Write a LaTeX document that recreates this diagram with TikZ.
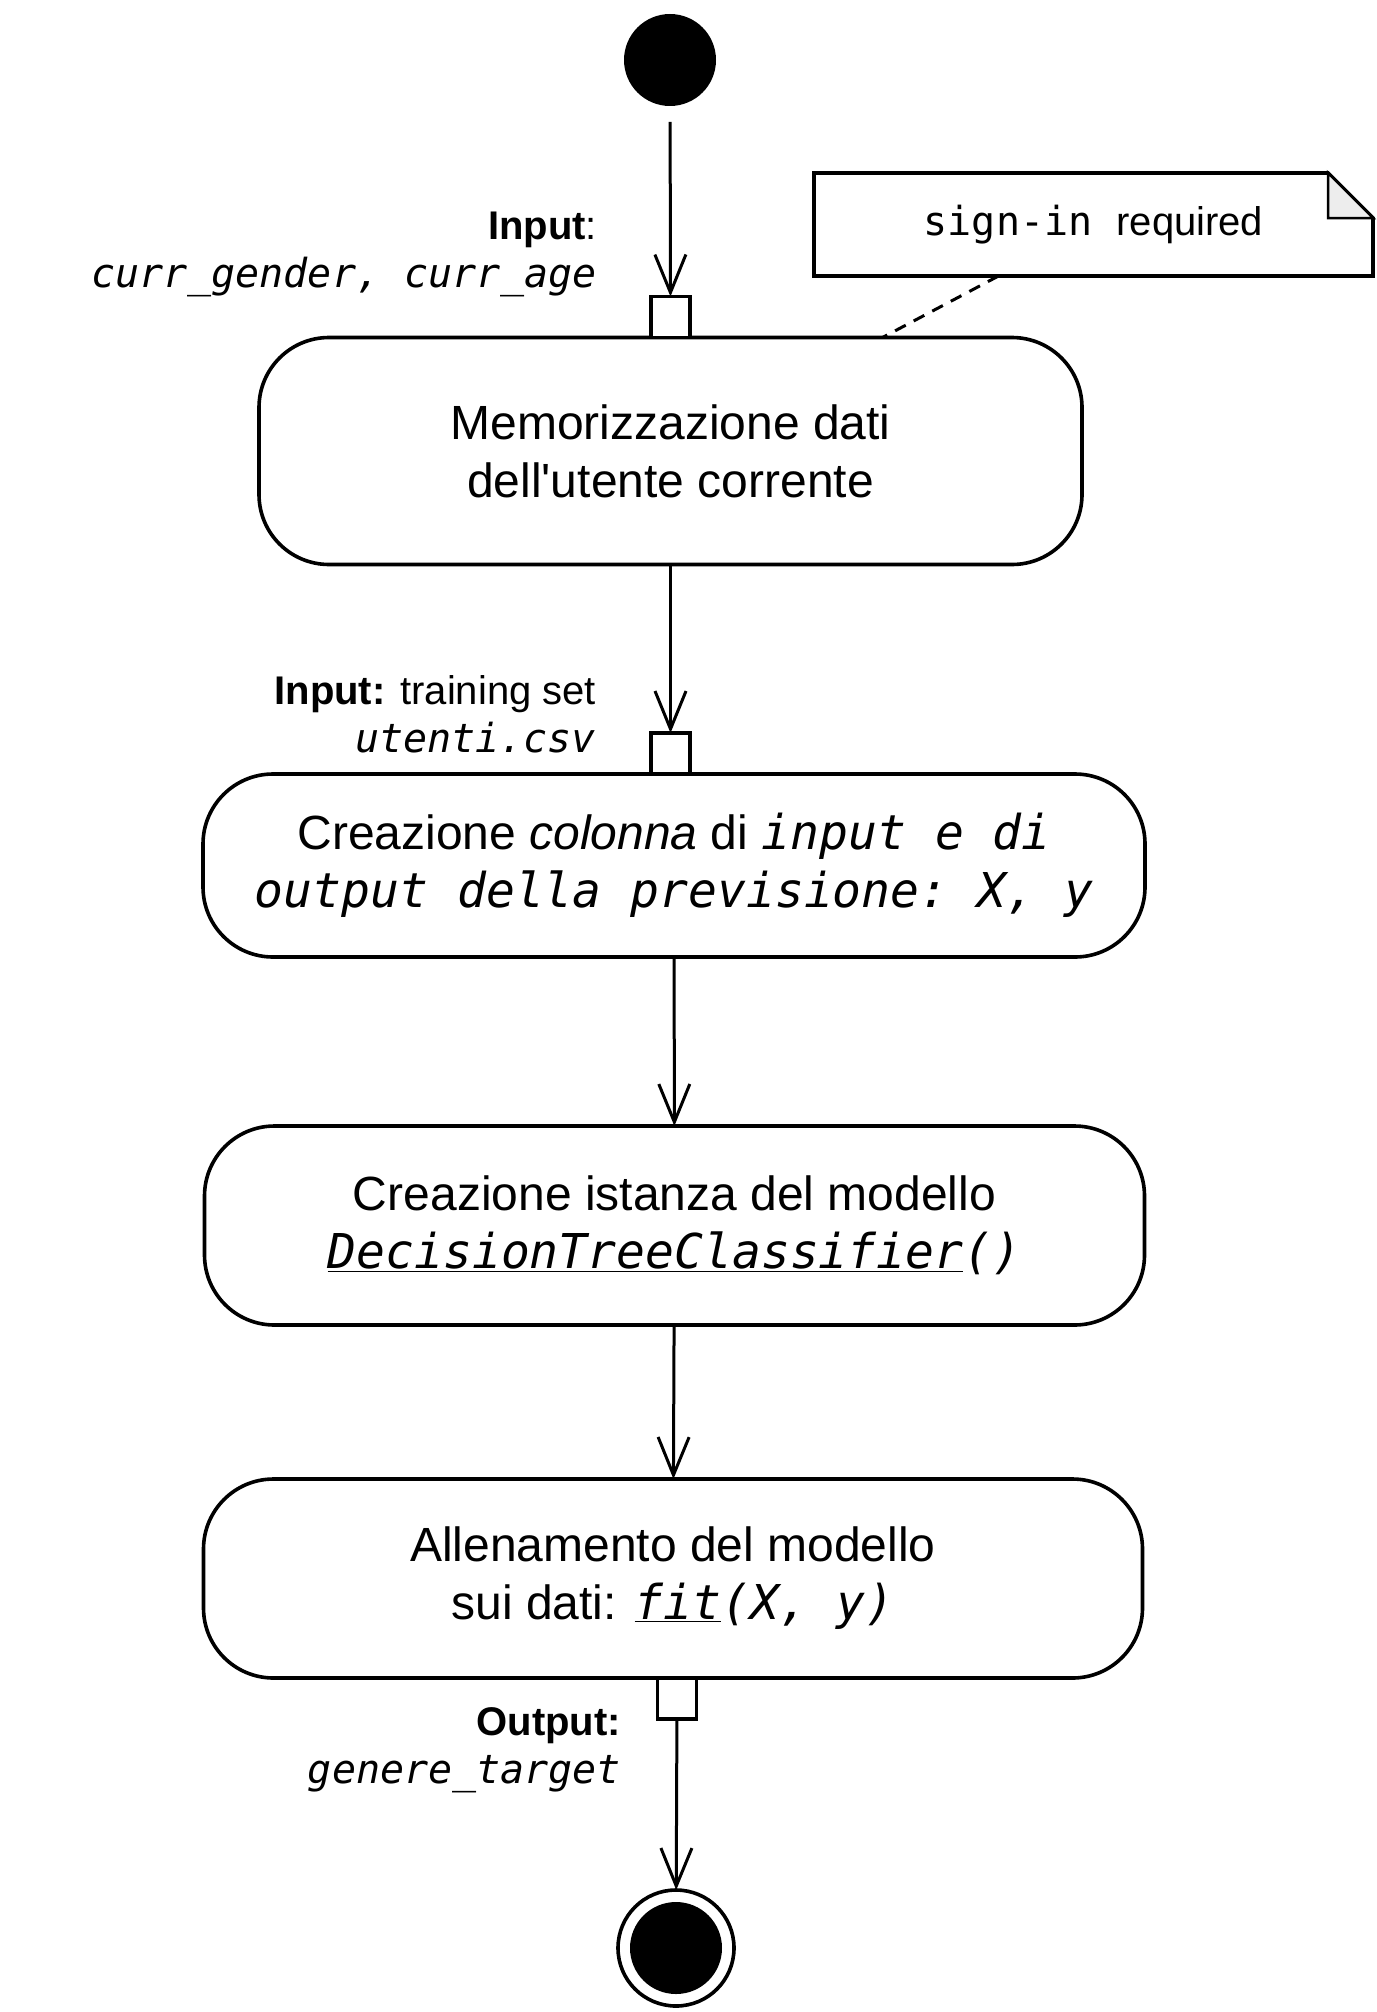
\documentclass[tikz,border=0pt]{standalone}
\usepackage{fontspec}
\setmainfont{Liberation Sans}
\setmonofont{DejaVu Sans Mono}[ItalicFont={DejaVu Sans Mono Oblique}]
\usetikzlibrary{positioning,arrows.meta}

\begin{document}
\begin{tikzpicture}[
    x=1pt, y=-1pt,
    every node/.style={outer sep=0pt, inner sep=0pt},
    action/.style={draw, line width=3.6pt, rounded corners=70pt, align=center, font=\fontsize{48}{58}\selectfont},
    pinbox/.style={draw, line width=3.6pt, fill=white, minimum width=39pt, minimum height=41pt},
    pinlabel/.style={align=right, anchor=east, font=\fontsize{40}{48}\selectfont},
    flow/.style={-{Straight Barb[length=38pt,width=31pt]}, line width=3pt}
]
    \useasboundingbox (0,0) rectangle (1376,2012);

    % Start and end
    \node[circle, fill=black, minimum size=92pt] (start) at (670,60) {};
    \node[circle, draw, line width=3.6pt, fill=white, minimum size=116pt] (stop) at (676,1948) {};
    \node[circle, fill=black, minimum size=92pt] (stopdot) at (stop) {};

    % Actions
    \node[action, minimum width=823pt, minimum height=227pt] (store) at (670.5,451) {Memorizzazione dati\\dell\textquotesingle utente corrente};
    \node[action, minimum width=942pt, minimum height=183pt] (columns) at (674,865.5) {Creazione \textit{colonna} di \texttt{\itshape input e di}\\\texttt{\itshape output della previsione: X, y}};
    \node[action, minimum width=940pt, minimum height=199pt] (model) at (674.5,1225.5) {Creazione istanza del modello\\\texttt{\itshape\underline{DecisionTreeClassifier}()}};
    \node[action, minimum width=939pt, minimum height=199pt] (train) at (673,1578.5) {Allenamento del modello\\sui dati: \texttt{\itshape\underline{fit}(X, y)}};

    % Pins
    \node[pinbox, above=0pt of store.north] (pinin1) {};
    \node[pinbox, above=0pt of columns.north, xshift=-3.5pt] (pinin2) {};
    \node[pinbox, below=0pt of train.south, xshift=4pt] (pinout) {};

    % Pin labels
    \node[pinlabel] (labin1) at (597,254) {\textbf{Input}:\\\texttt{\itshape curr\_gender, curr\_age}};
    \node[pinlabel] (labin2) at (596,714) {\textbf{Input:} training set\\\texttt{\itshape utenti.csv}};
    \node[pinlabel] (labout) at (621,1750) {\textbf{Output:}\\\texttt{\itshape genere\_target}};

    % Note
    \node[minimum width=559pt, minimum height=103pt] (note) at (1093.5,224.5) {};
    \draw[line width=3.6pt, fill=white] (note.south west) -- (note.north west) -- ([xshift=-45pt]note.north east)
        -- ([yshift=-45pt]note.north east) -- (note.south east) -- cycle;
    \draw[line width=2.5pt, fill=black!7] ([xshift=-45pt]note.north east) -- ([xshift=-45pt, yshift=-45pt]note.north east)
        -- ([yshift=-45pt]note.north east) -- cycle;
    \node[font=\fontsize{40}{48}\selectfont] (notetext) at (note) {\texttt{sign-in\ }required};
    \draw[line width=3pt, dash pattern=on 12pt off 9pt] ([xshift=-95pt]note.south) -- ([xshift=212pt]store.north);

    % Arrows
    \draw[flow, shorten <=16pt] (start) -- (pinin1);
    \draw[flow] (store) -- (pinin2);
    \draw[flow] (columns) -- (model);
    \draw[flow] (model) -- (train);
    \draw[flow] (pinout) -- (stop);
\end{tikzpicture}
\end{document}
